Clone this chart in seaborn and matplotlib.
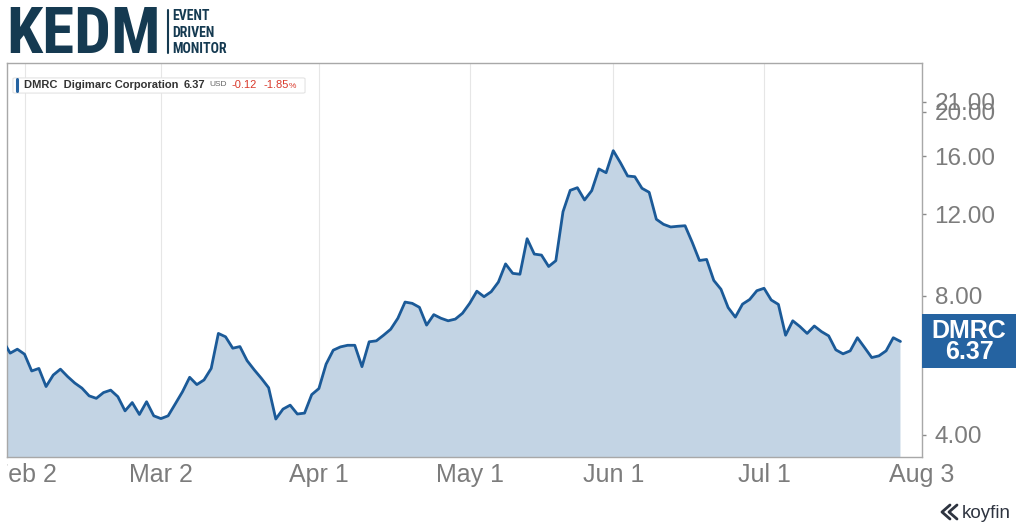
import pandas as pd
import seaborn as sns
import matplotlib.pyplot as plt
from matplotlib.lines import Line2D
from matplotlib.patches import FancyBboxPatch, Rectangle
from matplotlib.ticker import FixedLocator, FixedFormatter, NullLocator
import matplotlib.transforms as mtransforms

ticker = "DMRC"
company = "Digimarc Corporation"
last_price = "6.37"
change = "-0.12"
change_pct = "-1.85"

# trading calendar (NYSE holidays inside the window)
start_date = "2026-01-28"
axis_end = "2026-08-03"
holidays = ["2026-02-16", "2026-04-03", "2026-05-25", "2026-06-19", "2026-07-03"]

closes = [
    6.39,
    6.01, 6.13, 5.98, 5.50, 5.57, 5.09, 5.39, 5.55, 5.35, 5.18,
    5.05, 4.86, 4.80, 4.94, 5.00, 4.84, 4.51, 4.70, 4.43, 4.72,
    4.40, 4.34, 4.40, 4.67, 4.96, 5.33, 5.14, 5.26, 5.57, 6.63,
    6.52, 6.16, 6.21, 5.79, 5.53, 5.30, 5.06, 4.33, 4.55, 4.64,
    4.44, 4.46, 4.89, 5.04, 5.69, 6.10, 6.20, 6.25, 6.25, 5.62,
    6.36, 6.39, 6.57, 6.77, 7.15, 7.75, 7.70, 7.55, 6.91, 7.28,
    7.15, 7.06, 7.12, 7.33, 7.70, 8.18, 7.96, 8.16, 8.56, 9.37,
    8.94, 8.90, 10.62, 9.84, 9.79, 9.25, 9.52, 12.15, 13.51, 13.69,
    12.88, 13.49, 15.03, 14.75, 16.46, 15.50, 14.51, 14.46, 13.65, 13.38,
    11.70, 11.41, 11.26, 11.30, 11.33, 10.43, 9.53, 9.58, 8.63, 8.26,
    7.54, 7.19, 7.67, 7.85, 8.20, 8.30, 7.83, 7.66, 6.57, 7.06,
    6.86, 6.63, 6.88, 6.69, 6.55, 6.11, 5.99, 6.08, 6.49, 6.18,
    5.88, 5.93, 6.08, 6.49, 6.37,
]

date_ticks = ["2026-02-02", "2026-03-02", "2026-04-01", "2026-05-01",
              "2026-06-01", "2026-07-01", "2026-08-03"]
date_labels = ["Feb 2", "Mar 2", "Apr 1", "May 1", "Jun 1", "Jul 1", "Aug 3"]
price_ticks = [4, 6, 8, 12, 16, 20, 21]

LINE = "#1b5a98"
FILL = "#c3d4e4"
GREY = "#7c7c7c"
NAVY = "#153a51"
RED = "#d9392b"
TAG = "#2563a1"

days = pd.bdate_range(start_date, axis_end, freq="C", holidays=holidays)
data = pd.DataFrame({"Date": days[:len(closes)], "Close": closes})
data["n"] = range(len(data))
tick_pos = days.get_indexer(pd.to_datetime(date_ticks))

sns.set_theme(style="white")
plt.rcParams["font.family"] = ["Liberation Sans", "DejaVu Sans"]

W, H = 1024, 529
fig = plt.figure(figsize=(W / 100, H / 100), dpi=100)
ax = fig.add_axes([7 / W, 1 - 457 / H, 915 / W, 394 / H])

def px(x, y):
    return x / W, 1 - y / H

ax.fill_between(data["n"], data["Close"], 0.1, color=FILL, lw=0, zorder=1)
sns.lineplot(data=data, x="n", y="Close", ax=ax, color=LINE, linewidth=2.0, zorder=3)

ax.set_yscale("log")
ax.set_ylim(3.585, 25.46)
ax.set_xlim(0.56, tick_pos[-1])
ax.yaxis.set_major_locator(FixedLocator(price_ticks))
ax.yaxis.set_major_formatter(FixedFormatter([f"{p:.2f}" for p in price_ticks]))
ax.yaxis.set_minor_locator(NullLocator())
ax.yaxis.tick_right()
ax.set_xticks(tick_pos)
ax.set_xticklabels(date_labels)
ax.set_xlabel("")
ax.set_ylabel("")

ax.tick_params(axis="x", length=0, pad=4, labelsize=18, labelcolor=GREY)
ax.tick_params(axis="y", which="major", length=3, width=1, color="#8a8a8a",
               pad=6, labelsize=17.5, labelcolor=GREY, right=True, left=False)
ax.grid(axis="x", color="#e6e6e6", lw=0.8)
ax.grid(axis="y", visible=False)
for s in ax.spines.values():
    s.set_color("#a8a8a8")
    s.set_linewidth(1)

# the chart container cuts the first date label at its left edge
clip = mtransforms.TransformedBbox(mtransforms.Bbox.from_extents(7 / W, 0, 1, 1),
                                   fig.transFigure)
for lab in ax.get_xticklabels():
    lab.set_clip_on(True)
    lab.set_clip_box(clip)

# last price tag on the right axis
y_last = ax.transData.transform((0, closes[-1]))[1]
fig.add_artist(Rectangle((922, y_last - 27), 94, 54, transform=mtransforms.IdentityTransform(),
                         fc=TAG, ec="none", zorder=10))
fig.text(969 / W, y_last / H, f"{ticker}\n{last_price}", ha="center", va="center",
         color="white", fontsize=18, fontweight="bold", linespacing=0.88, zorder=11)

# legend chip
chip = FancyBboxPatch(px(15, 92), 288 / W, 13 / H, transform=fig.transFigure,
                      boxstyle="round,pad=0.002", fc="white", ec="#e3e3e3", lw=0.8)
fig.patches.append(chip)
fig.add_artist(Line2D([16.5 / W, 16.5 / W], [1 - 79 / H, 1 - 91 / H], color=TAG, lw=2.2))
yc = 1 - 85 / H
fig.text(24 / W, yc, f"{ticker}  {company}", fontsize=8, fontweight="bold",
         color="#333333", va="center")
fig.text(184 / W, yc, last_price, fontsize=8, fontweight="bold", color="#333333", va="center")
fig.text(209 / W, yc, "USD", fontsize=6, color="#666666", va="center")
fig.text(231 / W, yc, change, fontsize=8, color=RED, va="center")
fig.text(263 / W, yc, change_pct, fontsize=8, color=RED, va="center")
fig.text(289 / W, yc - 1 / H, "%", fontsize=6, color=RED, va="center")

# header logo
logo_font = ["Roboto Condensed", "Roboto", "DejaVu Sans"]
fig.text(*px(6, 53), "KEDM", fontsize=47, fontweight="heavy", color=NAVY,
         family=logo_font, va="baseline")
fig.add_artist(Line2D([168 / W, 168 / W], [1 - 10 / H, 1 - 53 / H], color=NAVY, lw=1.5))
for word, base in zip(["EVENT", "DRIVEN", "MONITOR"], [20, 37, 53]):
    fig.text(*px(172, base), word, fontsize=10, fontweight="bold", color=NAVY,
             family=logo_font, va="baseline")

# koyfin mark
for dx in (0, 7):
    fig.add_artist(Line2D([(950 + dx) / W, (942 + dx) / W, (950 + dx) / W],
                          [1 - 505 / H, 1 - 512 / H, 1 - 519 / H],
                          color="#2e3440", lw=2))
fig.text(*px(962, 518), "koyfin", fontsize=13.5, color="#2e3440", va="baseline")

fig.savefig("out.png", dpi=100, facecolor="white")
